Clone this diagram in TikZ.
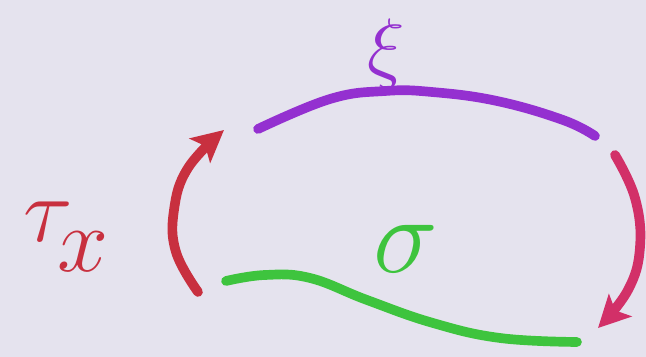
\documentclass[tikz,border=0pt]{standalone}
\usetikzlibrary{arrows.meta}
\definecolor{bgc}{HTML}{E5E3EE}
\definecolor{redc}{HTML}{C8303F}
\definecolor{pinkc}{HTML}{D23068}
\definecolor{purc}{HTML}{9430D0}
\definecolor{grnc}{HTML}{3EC43E}
\tikzset{
  stroke/.style={line width=5.5pt, line cap=round, line join=round},
  tip/.style={-{Stealth[length=18pt,width=18pt,inset=4pt]}},
  lbl/.style={inner sep=0pt, font=\Huge}
}
\begin{document}
\begin{tikzpicture}[x=0.02cm,y=-0.02cm]
\fill[bgc] (0,0) rectangle (646,357);
\useasboundingbox (0,0) rectangle (646,357);
% labels
\node[lbl, text=redc, scale=2.1] (tau) at (66,237) {$\tau\mkern-3mu\raisebox{-0.75ex}{$x$}$};
\node[lbl, text=purc, scale=1.8] (xi) at (386,54) {$\xi$};
\node[lbl, text=grnc, scale=2.5] (sigma) at (406,249) {$\sigma$};
% purple arc
\draw[stroke, purc] plot[smooth, tension=0.7] coordinates {(258,129) (330,99) (385,91) (432,92) (497,101) (563,120) (595,136)};
% right pink arrow
\draw[stroke, pinkc, tip] plot[smooth, tension=0.7] coordinates {(615,155) (635,198) (640,247) (628,290) (598,328)};
% green curve
\draw[stroke, grnc] plot[smooth, tension=0.7] coordinates {(226,281) (265,275) (310,278) (367,300) (433,323) (500,338) (577,342)};
% left red arrow
\draw[stroke, redc, tip] plot[smooth, tension=0.7] coordinates {(198,292) (176,252) (174,210) (188,168) (224,130)};
\end{tikzpicture}
\end{document}
